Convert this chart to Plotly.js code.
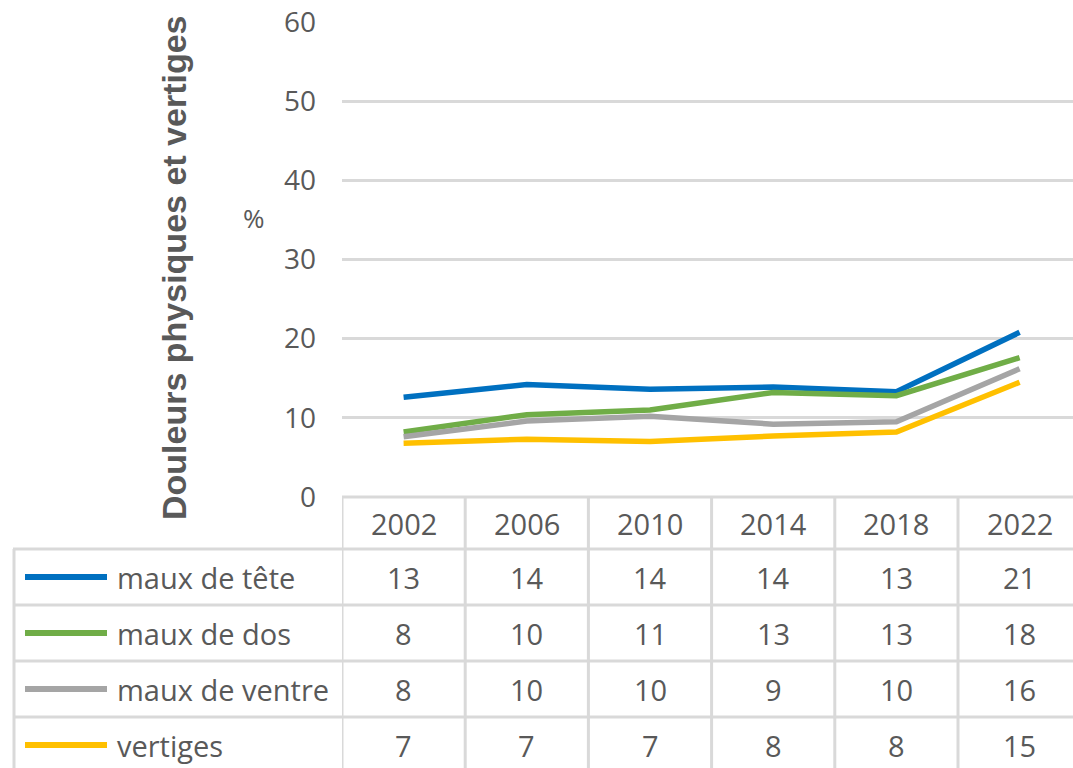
<!DOCTYPE html>
<html>
<head>
<meta charset="utf-8">
<script src="https://cdn.plot.ly/plotly-3.0.1.min.js"></script>
<style>
html,body{margin:0;padding:0;background:#fff;}
#chart{width:1073px;height:768px;}
</style>
</head>
<body>
<div id="chart"></div>
<script>
// ---- data ----
var years = ['2002', '2006', '2010', '2014', '2018', '2022'];
var seriesNames = ['maux de tête', 'maux de dos', 'maux de ventre', 'vertiges'];
var mauxTete   = [12.6, 14.2, 13.6, 13.9, 13.3, 20.8];
var mauxDos    = [8.2, 10.4, 11.0, 13.2, 12.8, 17.6];
var mauxVentre = [7.6, 9.6, 10.2, 9.2, 9.5, 16.2];
var vertiges   = [6.8, 7.3, 7.0, 7.7, 8.2, 14.5];
// values shown in the data table (rounded)
var tableTete   = [13, 14, 14, 14, 13, 21];
var tableDos    = [8, 10, 11, 13, 13, 18];
var tableVentre = [8, 10, 10, 9, 10, 16];
var tableVert   = [7, 7, 7, 8, 8, 15];
var colors = ['#0070C0', '#70AD47', '#A5A5A5', '#FFC000'];
var yTitle = 'Douleurs physiques et vertiges';
var yUnit = '%';

// ---- layout geometry ----
var plotTop = 22, plotBottom = 497, plotLeft = 342, W = 1073, H = 768;
var plotH = plotBottom - plotTop, plotW = W - plotLeft;
var colW = 123.2;  // width of one year column in px (last column runs past the right edge)
function py(p) { return (plotBottom - p) / plotH; }   // pixel y -> paper y
function px(p) { return (p - plotLeft) / plotW; }     // pixel x -> paper x

var allSeries = [mauxTete, mauxDos, mauxVentre, vertiges];
var allTable = [tableTete, tableDos, tableVentre, tableVert];

var traces = allSeries.map(function (s, i) {
  return {
    x: years, y: s, type: 'scatter', mode: 'lines', name: seriesNames[i],
    line: {color: colors[i], width: 5.5, shape: 'linear'},
    hoverinfo: 'skip'
  };
});

var txtColor = '#595959';
var border = '#D9D9D9';
var tableFont = {family: 'Open Sans, Noto Sans, sans-serif', size: 29, color: txtColor};

var rowLines = [549, 605, 661, 717];
var rowCenters = [577, 633, 689, 745];
var shapes = [];
var annotations = [];

// top border of header row
shapes.push({type: 'line', xref: 'paper', yref: 'paper', x0: 0, x1: 1, y0: 0, y1: 0,
  line: {color: border, width: 3}});
// horizontal row lines
rowLines.forEach(function (r) {
  shapes.push({type: 'line', xref: 'paper', yref: 'paper', x0: px(13), x1: 1, y0: py(r), y1: py(r),
    line: {color: border, width: 3}});
});
// vertical column lines (category boundaries)
for (var i = 0; i < years.length; i++) {
  shapes.push({type: 'line', xref: 'x', yref: 'paper', x0: i - 0.5, x1: i - 0.5, y0: 0, y1: py(H + 2),
    line: {color: border, width: 3}});
}
// left border of series label column
shapes.push({type: 'line', xref: 'paper', yref: 'paper', x0: px(14), x1: px(14), y0: py(549), y1: py(H + 2),
  line: {color: border, width: 3}});

// header years (category index positions)
years.forEach(function (y, c) {
  annotations.push({xref: 'x', yref: 'paper', x: c, y: py(523), text: y, showarrow: false,
    xanchor: 'center', yanchor: 'middle', font: tableFont});
});
// series rows
seriesNames.forEach(function (name, r) {
  var yc = py(rowCenters[r]);
  shapes.push({type: 'line', xref: 'paper', yref: 'paper', x0: px(25), x1: px(107), y0: yc, y1: yc,
    line: {color: colors[r], width: 6}});
  annotations.push({xref: 'paper', yref: 'paper', x: px(115), y: yc, text: name, showarrow: false,
    xanchor: 'left', yanchor: 'middle', font: tableFont});
  allTable[r].forEach(function (v, c) {
    annotations.push({xref: 'x', yref: 'paper', x: c, y: yc, text: String(v), showarrow: false,
      xanchor: 'center', yanchor: 'middle', font: tableFont});
  });
});
// axis title
annotations.push({xref: 'paper', yref: 'paper', x: px(174), y: py(268), text: yTitle, showarrow: false,
  textangle: -90, xanchor: 'center', yanchor: 'middle',
  font: {family: 'Liberation Sans, Arial, sans-serif', size: 34, color: txtColor, weight: 'bold'}});
annotations.push({xref: 'paper', yref: 'paper', x: px(254), y: py(218), text: yUnit, showarrow: false,
  xanchor: 'center', yanchor: 'middle',
  font: {family: 'Open Sans, sans-serif', size: 26, color: txtColor}});

var layout = {
  width: W, height: H,
  margin: {l: plotLeft, r: 0, t: plotTop, b: H - plotBottom, pad: 0},
  paper_bgcolor: '#ffffff', plot_bgcolor: '#ffffff',
  showlegend: false,
  xaxis: {type: 'category', range: [-0.5, -0.5 + plotW / colW], showgrid: false, zeroline: false,
    showticklabels: false, ticks: '', showline: false, fixedrange: true},
  yaxis: {range: [0, 60], dtick: 10, tick0: 0, showgrid: true, gridcolor: border, gridwidth: 3,
    zeroline: false, showline: false, ticks: '', ticklabelstandoff: 25,
    tickfont: {family: 'Open Sans, sans-serif', size: 28, color: txtColor}, fixedrange: true},
  shapes: shapes,
  annotations: annotations
};

Plotly.newPlot('chart', traces, layout, {displayModeBar: false, staticPlot: true});
</script>
</body>
</html>
